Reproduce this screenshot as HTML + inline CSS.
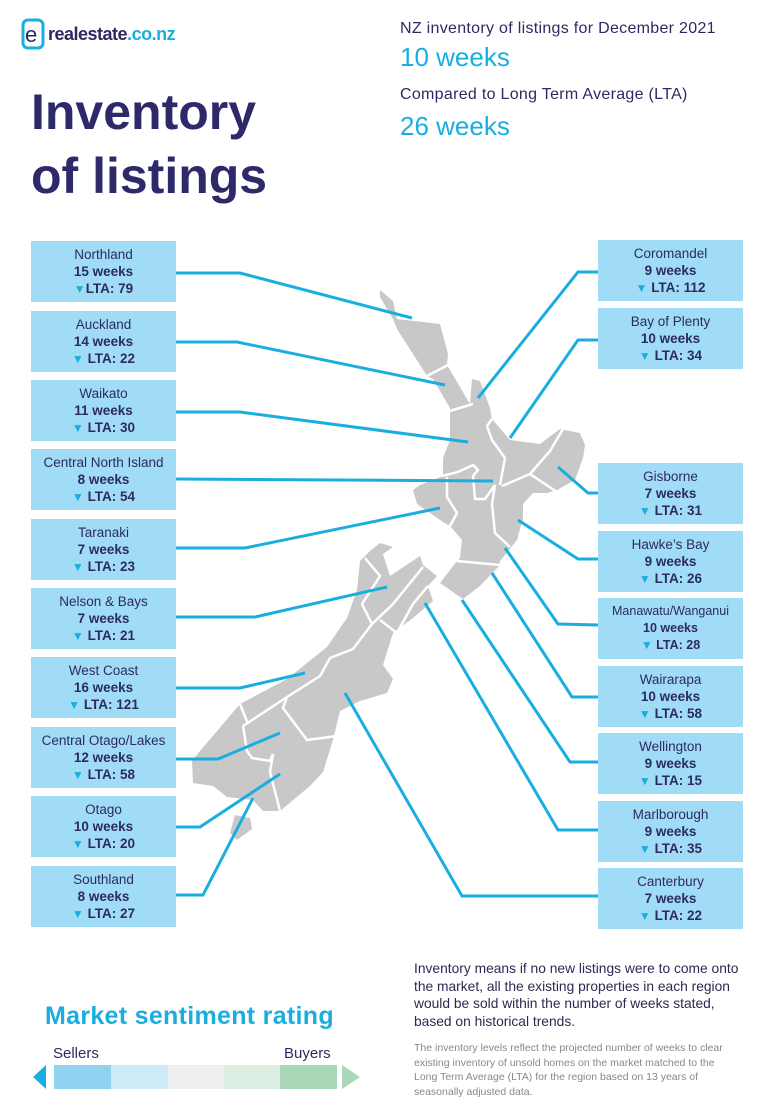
<!DOCTYPE html>
<html><head><meta charset="utf-8"><style>
body{margin:0;background:#fff;}
#p{position:relative;width:760px;height:1106px;overflow:hidden;background:#fff;font-family:"Liberation Sans",sans-serif;color:#2d2a62}
.b{position:absolute;width:145px;height:61px;background:#a0dcf5;text-align:center;font-size:13.5px;line-height:17px;padding-top:5px;box-sizing:border-box}
.b .w{font-weight:bold}
.b .t{color:#1aaee0;font-size:12px}
.a{position:absolute;white-space:nowrap}
svg{position:absolute;left:0;top:0}
</style></head><body><div id="p">
<svg width="760" height="1106">
<g fill="#c8c8c8" stroke="none">
<polygon points="380,290 393,301 397,319 440,324 448,354 447,365 470,404 472,379 480,381 490,408 492,419 510,440 540,444 560,429 580,433 585,445 583,458 575,480 557,490 547,493 533,493 523,504 523,518 517,540 500,561 500,565 480,586 463,599 440,583 457,561 460,558 462,540 450,526 443,522 417,504 413,490 420,485 443,476 443,458 450,440 450,408 433,379 427,376 397,329 393,319 380,297"/>
<polygon points="380,543 393,547 383,554 390,576 420,556 423,565 437,576 428,586 433,601 413,618 393,633 383,665 393,679 387,693 360,701 340,711 333,740 323,772 310,786 280,811 263,811 253,800 227,797 213,786 193,783 192,761 200,751 240,704 287,679 327,647 347,618 357,590 360,561 370,551"/>
<polygon points="235,815 250,818 252,829 237,840 230,833"/>
</g>
<g fill="none" stroke="#fff" stroke-width="2.5">
<polyline points="427,376 448,365"/>
<polyline points="443,413 473,404"/>
<polyline points="492,419 487,426 492,440 505,458 500,485"/>
<polyline points="442,476 458,472 473,465 478,470 473,476 475,499 485,499 495,485"/>
<polyline points="447,477 447,497 457,513 450,526"/>
<polyline points="502,486 530,474 550,451 563,429"/>
<polyline points="530,474 557,492"/>
<polyline points="495,485 492,504 495,533 510,547"/>
<polyline points="457,561 500,565"/>
<polyline points="365,558 380,576 362,604 372,624"/>
<polyline points="372,624 393,604 423,567"/>
<polyline points="380,620 397,633 413,604 428,586"/>
<polyline points="372,624 353,649 330,658 320,676 287,697 243,726"/>
<polyline points="287,697 283,708 307,740 337,736"/>
<polyline points="243,726 247,751 252,758 270,761 273,754 270,772 280,811"/>
<polyline points="240,704 248,724"/>
</g>
<g fill="none" stroke="#1aaee0" stroke-width="3">
<polyline points="176,273 240,273 412,318"/>
<polyline points="176,342 237,342 445,385"/>
<polyline points="176,412 240,412 468,442"/>
<polyline points="176,479 493,481"/>
<polyline points="176,548 245,548 440,508"/>
<polyline points="176,617 255,617 387,587"/>
<polyline points="176,688 240,688 305,673"/>
<polyline points="176,759 218,759 280,733"/>
<polyline points="176,827 200,827 280,774"/>
<polyline points="176,895 203,895 253,798"/>
<polyline points="598,272 578,272 478,398"/>
<polyline points="598,340 578,340 510,438"/>
<polyline points="598,493 588,493 558,467"/>
<polyline points="598,559 578,559 518,520"/>
<polyline points="598,625 558,624 505,548"/>
<polyline points="598,697 572,697 492,573"/>
<polyline points="598,762 570,762 462,600"/>
<polyline points="598,830 558,830 425,603"/>
<polyline points="598,896 462,896 345,693"/>
</g>
<rect x="23" y="20" width="20" height="28" rx="5" fill="none" stroke="#1aaee0" stroke-width="3"/>
<text x="25" y="42" font-family="Liberation Sans" font-size="22" fill="#2d2a62">e</text>
<polygon points="33,1077 46,1065 46,1089" fill="#1aaee0"/>
<rect x="54" y="1065" width="57" height="24" fill="#8fd3f0"/>
<rect x="111" y="1065" width="57" height="24" fill="#cdeaf9"/>
<rect x="168" y="1065" width="56" height="24" fill="#eeeeee"/>
<rect x="224" y="1065" width="56" height="24" fill="#dcefe2"/>
<rect x="280" y="1065" width="57" height="24" fill="#a8d8b8"/>
<polygon points="360,1077 342,1065 342,1089" fill="#a8d8b8"/>
</svg>
<div class="a" style="left:48px;top:24px;font-size:18px;font-weight:bold;letter-spacing:-0.5px">realestate<span style="color:#1aaee0">.co.nz</span></div>
<div class="a" style="left:31px;top:80px;font-size:50px;line-height:64px;font-weight:bold;color:#2e2a6a">Inventory<br>of listings</div>
<div class="a" style="left:400px;top:20px;font-size:16px;letter-spacing:0.3px">NZ inventory of listings for December 2021</div>
<div class="a" style="left:400px;top:42px;font-size:26px;color:#1aaee0">10 weeks</div>
<div class="a" style="left:400px;top:86px;font-size:16px;letter-spacing:0.3px">Compared to Long Term Average (LTA)</div>
<div class="a" style="left:400px;top:111px;font-size:26px;color:#1aaee0">26 weeks</div>

<div class="b" style="left:31px;top:241px">Northland<br><span class="w">15 weeks</span><br><span class="w"><span class="t">▼</span>LTA: 79</span></div>
<div class="b" style="left:31px;top:311px">Auckland<br><span class="w">14 weeks</span><br><span class="w"><span class="t">▼</span> LTA: 22</span></div>
<div class="b" style="left:31px;top:380px">Waikato<br><span class="w">11 weeks</span><br><span class="w"><span class="t">▼</span> LTA: 30</span></div>
<div class="b" style="left:31px;top:449px">Central North Island<br><span class="w">8 weeks</span><br><span class="w"><span class="t">▼</span> LTA: 54</span></div>
<div class="b" style="left:31px;top:519px">Taranaki<br><span class="w">7 weeks</span><br><span class="w"><span class="t">▼</span> LTA: 23</span></div>
<div class="b" style="left:31px;top:588px">Nelson &amp; Bays<br><span class="w">7 weeks</span><br><span class="w"><span class="t">▼</span> LTA: 21</span></div>
<div class="b" style="left:31px;top:657px">West Coast<br><span class="w">16 weeks</span><br><span class="w"><span class="t">▼</span> LTA: 121</span></div>
<div class="b" style="left:31px;top:727px">Central Otago/Lakes<br><span class="w">12 weeks</span><br><span class="w"><span class="t">▼</span> LTA: 58</span></div>
<div class="b" style="left:31px;top:796px">Otago<br><span class="w">10 weeks</span><br><span class="w"><span class="t">▼</span> LTA: 20</span></div>
<div class="b" style="left:31px;top:866px">Southland<br><span class="w">8 weeks</span><br><span class="w"><span class="t">▼</span> LTA: 27</span></div>

<div class="b" style="left:598px;top:240px">Coromandel<br><span class="w">9 weeks</span><br><span class="w"><span class="t">▼</span> LTA: 112</span></div>
<div class="b" style="left:598px;top:308px">Bay of Plenty<br><span class="w">10 weeks</span><br><span class="w"><span class="t">▼</span> LTA: 34</span></div>
<div class="b" style="left:598px;top:463px">Gisborne<br><span class="w">7 weeks</span><br><span class="w"><span class="t">▼</span> LTA: 31</span></div>
<div class="b" style="left:598px;top:531px">Hawke’s Bay<br><span class="w">9 weeks</span><br><span class="w"><span class="t">▼</span> LTA: 26</span></div>
<div class="b" style="left:598px;top:598px;font-size:12.5px">Manawatu/Wanganui<br><span class="w">10 weeks</span><br><span class="w"><span class="t">▼</span> LTA: 28</span></div>
<div class="b" style="left:598px;top:666px">Wairarapa<br><span class="w">10 weeks</span><br><span class="w"><span class="t">▼</span> LTA: 58</span></div>
<div class="b" style="left:598px;top:733px">Wellington<br><span class="w">9 weeks</span><br><span class="w"><span class="t">▼</span> LTA: 15</span></div>
<div class="b" style="left:598px;top:801px">Marlborough<br><span class="w">9 weeks</span><br><span class="w"><span class="t">▼</span> LTA: 35</span></div>
<div class="b" style="left:598px;top:868px">Canterbury<br><span class="w">7 weeks</span><br><span class="w"><span class="t">▼</span> LTA: 22</span></div>

<div class="a" style="left:414px;top:960px;font-size:13.8px;line-height:17.5px;color:#2d2a52">Inventory means if no new listings were to come onto<br>the market, all the existing properties in each region<br>would be sold within the number of weeks stated,<br>based on historical trends.</div>
<div class="a" style="left:414px;top:1041px;font-size:10.5px;line-height:14.5px;color:#888">The inventory levels reflect the projected number of weeks to clear<br>existing inventory of unsold homes on the market matched to the<br>Long Term Average (LTA) for the region based on 13 years of<br>seasonally adjusted data.</div>
<div class="a" style="left:45px;top:1002px;font-size:25px;font-weight:bold;letter-spacing:0.3px;color:#1aaee0">Market sentiment rating</div>
<div class="a" style="left:53px;top:1045px;font-size:15px">Sellers</div>
<div class="a" style="left:284px;top:1045px;font-size:15px">Buyers</div>
</div></body></html>
